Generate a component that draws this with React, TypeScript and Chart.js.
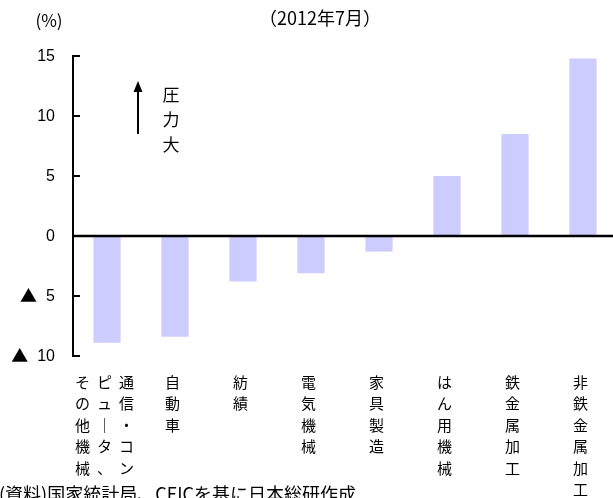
import React, { useEffect, useRef } from "react";
import { Chart, registerables } from "chart.js";

Chart.register(...registerables);

// Label columns for each category (vertical text, columns left-to-right)
const labelColumns: string[][] = [
  ["その他機械", "ピュ｜タ、", "通信・コン"],
  ["自動車"],
  ["紡績"],
  ["電気機械"],
  ["家具製造"],
  ["はん用機械"],
  ["鉄金属加工"],
  ["非鉄金属加工"],
];
const categories: string[] = labelColumns.map((cols) => [...cols].reverse().join(""));
const values: number[] = [-8.9, -8.4, -3.8, -3.1, -1.3, 5.0, 8.5, 14.8];
const yMin = -10;
const yMax = 15;
const yStep = 5;
const negMark = "▲";
const titleText = "（2012年7月）";
const unitText = "(%)";
const noteText = ["圧", "力", "大"];
const sourceText = "(資料)国家統計局、CEICを基に日本総研作成";

const CJK = '"Noto Sans CJK JP", "Noto Sans", sans-serif';
const LAT = '"Liberation Sans", "DejaVu Sans", sans-serif';

const decorPlugin = {
  id: "decor",
  afterDatasetsDraw(chart: any) {
    const { ctx, chartArea, scales } = chart;
    const y = scales.y;
    ctx.save();
    // zero line
    const y0 = y.getPixelForValue(0);
    ctx.strokeStyle = "#000";
    ctx.lineWidth = 2.5;
    ctx.beginPath();
    ctx.moveTo(chartArea.left, y0);
    ctx.lineTo(chart.width, y0);
    ctx.stroke();
    // inward tick marks
    ctx.lineWidth = 2;
    y.ticks.forEach((t: any) => {
      const py = y.getPixelForValue(t.value);
      ctx.beginPath();
      ctx.moveTo(chartArea.left, py);
      ctx.lineTo(chartArea.left + 7, py);
      ctx.stroke();
    });
    ctx.restore();
  },
  afterDraw(chart: any) {
    const { ctx, scales, chartArea } = chart;
    const x = scales.x;
    const y = scales.y;
    ctx.save();
    ctx.fillStyle = "#000";
    ctx.textBaseline = "middle";
    // y tick labels
    const labelRight = chartArea.left - 18;
    y.ticks.forEach((t: any) => {
      const v = Number(t.value);
      const py = y.getPixelForValue(v);
      const num = String(Math.abs(v));
      ctx.textAlign = "right";
      ctx.font = `16px ${LAT}`;
      ctx.fillText(num, labelRight, py + 0.5);
      if (v < 0) {
        const w = ctx.measureText(num).width;
        ctx.font = `17px ${CJK}`;
        ctx.fillText(negMark, labelRight - w - 9, py);
      }
    });
    // category labels (vertical)
    ctx.font = `15px ${CJK}`;
    ctx.textAlign = "center";
    labelColumns.forEach((cols, i) => {
      const cx = x.getPixelForValue(i) - 2.5;
      const n = cols.length;
      cols.forEach((col, j) => {
        const colX = cx + (j - (n - 1) / 2) * 22;
        [...col].forEach((ch, k) => {
          ctx.fillText(ch, colX, 382 + k * 21.5);
        });
      });
    });
    // title & unit
    ctx.font = `18px ${CJK}`;
    ctx.fillText(titleText, 320, 18);
    ctx.font = `17px ${CJK}`;
    ctx.fillText(unitText, 49, 21);
    // arrow
    ctx.strokeStyle = "#000";
    ctx.lineWidth = 2;
    ctx.beginPath();
    ctx.moveTo(138, 134);
    ctx.lineTo(138, 90);
    ctx.stroke();
    ctx.beginPath();
    ctx.moveTo(138, 81);
    ctx.lineTo(133.5, 92);
    ctx.lineTo(142.5, 92);
    ctx.closePath();
    ctx.fill();
    ctx.font = `17px ${CJK}`;
    noteText.forEach((ch, k) => ctx.fillText(ch, 171, 95 + k * 25));
    // source
    ctx.textAlign = "left";
    ctx.font = `18px ${CJK}`;
    ctx.fillText(sourceText, -1, 494);
    ctx.restore();
  },
};

export default function App() {
  const ref = useRef<HTMLCanvasElement | null>(null);
  useEffect(() => {
    if (!ref.current) return;
    const chart = new Chart(ref.current, {
      type: "bar",
      data: {
        labels: categories,
        datasets: [
          {
            data: values,
            backgroundColor: "rgb(204,204,255)",
            borderWidth: 0,
            categoryPercentage: 1,
            barPercentage: 0.4,
          },
        ],
      },
      options: {
        animation: false,
        responsive: false,
        devicePixelRatio: 1,
        layout: { padding: { left: 0, top: 56, right: 3, bottom: 142 } },
        plugins: { legend: { display: false }, tooltip: { enabled: false }, title: { display: false } },
        scales: {
          x: { display: false, offset: true },
          y: {
            min: yMin,
            max: yMax,
            afterFit: (s: any) => {
              s.width = 73;
            },
            ticks: {
              stepSize: yStep,
              display: false,
            },
            grid: { display: true, drawOnChartArea: false, drawTicks: false },
            border: { display: true, color: "#000", width: 2 },
          },
        },
      },
      plugins: [decorPlugin],
    });
    return () => chart.destroy();
  }, []);
  return (
    <div style={{ position: "fixed", left: 0, top: 0, width: 613, height: 498, overflow: "hidden", background: "#fff" }}>
      <canvas ref={ref} width={620} height={498} style={{ display: "block" }} />
    </div>
  );
}
